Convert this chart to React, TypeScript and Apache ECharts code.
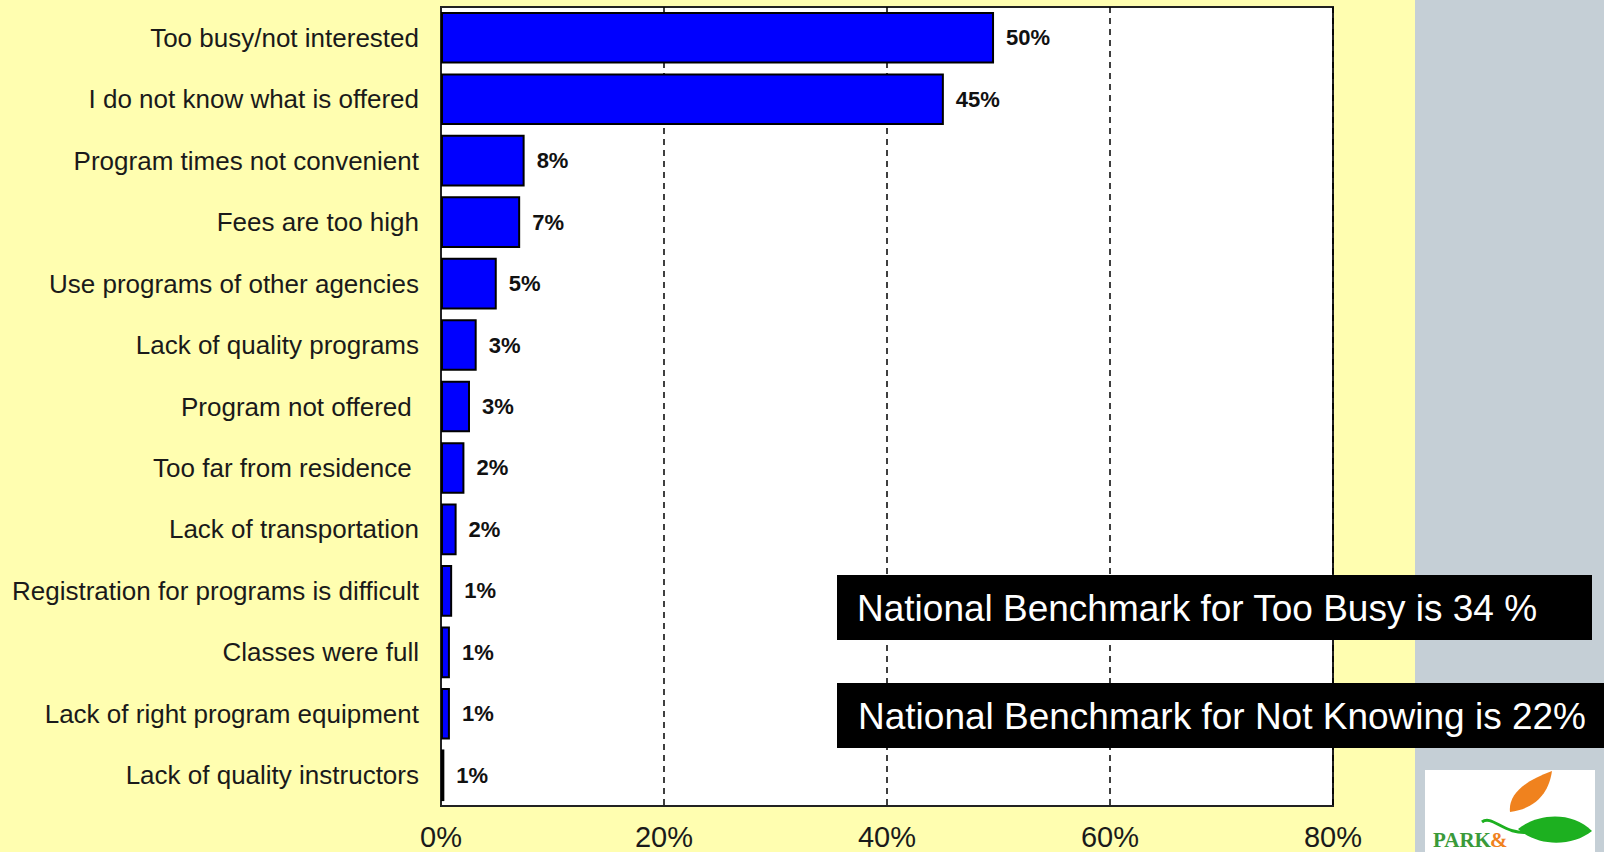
import React, { useEffect, useRef } from "react";
import * as echarts from "echarts";

const categories = [
  "Too busy/not interested",
  "I do not know what is offered",
  "Program times not convenient",
  "Fees are too high",
  "Use programs of other agencies",
  "Lack of quality programs",
  "Program not offered ",
  "Too far from residence ",
  "Lack of transportation",
  "Registration for programs is difficult",
  "Classes were full",
  "Lack of right program equipment",
  "Lack of quality instructors",
];
const values = [49.6, 45.1, 7.5, 7.1, 5.0, 3.2, 2.6, 2.1, 1.4, 1.0, 0.8, 0.8, 0.3];
const valueLabels = ["50%", "45%", "8%", "7%", "5%", "3%", "3%", "2%", "2%", "1%", "1%", "1%", "1%"];
const xMin = 0;
const xMax = 80;
const xStep = 20;
const notes = [
  "National Benchmark for Too Busy is 34 %",
  "National Benchmark for Not Knowing is 22%",
];

echarts.graphic.registerShape(
  "orangeLeaf",
  echarts.graphic.extendPath("M2 41 C0 24 16 10 44 0 C41 20 30 37 2 41 Z", {})
);
echarts.graphic.registerShape(
  "greenLeaf",
  echarts.graphic.extendPath("M38 16 C58 0 92 -2 112 18 C92 34 58 34 38 16 Z", {})
);

const FONT = 'Arial, "Liberation Sans", sans-serif';
const SERIF = '"Liberation Serif", "DejaVu Serif", serif';

export default function App() {
  const ref = useRef<HTMLDivElement>(null);
  useEffect(() => {
    if (!ref.current) return;
    const chart = echarts.init(ref.current, null, { renderer: "svg" });
    chart.setOption({
      animation: false,
      backgroundColor: "#FFFEB0",
      grid: {
        left: 441,
        right: 271,
        top: 7,
        bottom: 46,
        outerBoundsMode: "none",
        containLabel: false,
        show: true,
        backgroundColor: "#ffffff",
        borderColor: "#222",
        borderWidth: 2,
      },
      xAxis: {
        type: "value",
        min: xMin,
        max: xMax,
        interval: xStep,
        axisLine: { show: true, lineStyle: { color: "#222", width: 2 } },
        axisTick: { show: false },
        axisLabel: {
          formatter: "{value}%",
          fontSize: 29,
          color: "#1a1a1a",
          fontFamily: FONT,
          margin: 16,
        },
        splitLine: { show: true, lineStyle: { color: "#000", type: [6, 5], width: 1.5 } },
      },
      yAxis: {
        type: "category",
        data: categories,
        inverse: true,
        axisLine: { show: true, lineStyle: { color: "#222", width: 2 } },
        axisTick: { show: false },
        axisLabel: {
          fontSize: 26,
          color: "#1a1a1a",
          fontFamily: FONT,
          margin: 22,
        },
      },
      series: [
        {
          type: "bar",
          data: values,
          barCategoryGap: "16%",
          itemStyle: { color: "#0000FF", borderColor: "#000", borderWidth: 2 },
          label: {
            show: true,
            position: "right",
            distance: 12,
            fontSize: 22,
            fontWeight: "bold",
            color: "#111",
            fontFamily: FONT,
            formatter: (p: any) => valueLabels[p.dataIndex],
          },
        },
      ],
      graphic: [
        {
          type: "rect",
          z: -10,
          silent: true,
          shape: { x: 1415, y: 0, width: 189, height: 852 },
          style: { fill: "#C5CFD6" },
        },
        {
          type: "rect",
          z: 100,
          shape: { x: 837, y: 575, width: 755, height: 65 },
          style: { fill: "#000" },
        },
        {
          type: "text",
          z: 101,
          x: 857,
          y: 608,
          style: {
            text: notes[0],
            fill: "#fff",
            fontSize: 37,
            fontFamily: FONT,
            verticalAlign: "middle",
          },
        },
        {
          type: "rect",
          z: 100,
          shape: { x: 837, y: 683, width: 767, height: 65 },
          style: { fill: "#000" },
        },
        {
          type: "text",
          z: 101,
          x: 858,
          y: 716,
          style: {
            text: notes[1],
            fill: "#fff",
            fontSize: 37,
            fontFamily: FONT,
            verticalAlign: "middle",
          },
        },
        {
          type: "rect",
          z: 100,
          shape: { x: 1425, y: 770, width: 170, height: 90 },
          style: { fill: "#fff" },
        },
        {
          type: "orangeLeaf",
          z: 101,
          x: 1508,
          y: 771,
          style: { fill: "#F0821E" },
        },
        {
          type: "greenLeaf",
          z: 101,
          x: 1480,
          y: 813,
          style: { fill: "#1DB020" },
        },
        {
          type: "bezierCurve",
          z: 101,
          shape: { x1: 1482, y1: 822, x2: 1530, y2: 832, cpx1: 1492, cpy1: 814, cpx2: 1505, cpy2: 836 },
          style: { stroke: "#1DB020", lineWidth: 3, fill: "none" },
        },
        {
          type: "text",
          z: 101,
          x: 1433,
          y: 829,
          style: {
            text: "PARK",
            fill: "#3A9A3A",
            fontSize: 21,
            fontWeight: "bold",
            fontFamily: SERIF,
            verticalAlign: "top",
          },
        },
        {
          type: "text",
          z: 101,
          x: 1490,
          y: 829,
          style: {
            text: "&",
            fill: "#F0821E",
            fontSize: 21,
            fontWeight: "bold",
            fontFamily: SERIF,
            verticalAlign: "top",
          },
        },
      ],
    });
    return () => chart.dispose();
  }, []);
  return (
    <div
      ref={ref}
      style={{ position: "absolute", left: 0, top: 0, width: 1604, height: 852 }}
    />
  );
}
